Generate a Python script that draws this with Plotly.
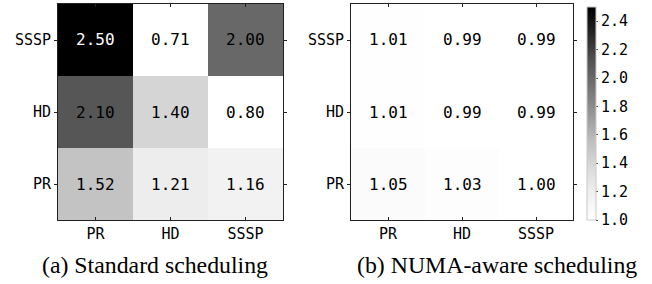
import plotly.graph_objects as go

x_labels = ["PR", "HD", "SSSP"]
y_labels = ["PR", "HD", "SSSP"]  # bottom to top

# rows follow y_labels (PR, HD, SSSP), columns follow x_labels
standard = [
    [1.52, 1.21, 1.16],
    [2.10, 1.40, 0.80],
    [2.50, 0.71, 2.00],
]
numa_aware = [
    [1.05, 1.03, 1.00],
    [1.01, 0.99, 0.99],
    [1.01, 0.99, 0.99],
]
captions = ["(a) Standard scheduling", "(b) NUMA-aware scheduling"]
cbar_ticks = [1.0, 1.2, 1.4, 1.6, 1.8, 2.0, 2.2, 2.4]
zmin, zmax = 1.0, 2.5

greys = [
    [0.0, "#ffffff"], [0.125, "#f0f0f0"], [0.25, "#d9d9d9"], [0.375, "#bdbdbd"],
    [0.5, "#969696"], [0.625, "#737373"], [0.75, "#525252"], [0.875, "#252525"],
    [1.0, "#000000"],
]

MONO = "DejaVu Sans Mono"
SERIF = "Liberation Serif"

W, H = 652, 284
def px_x(v):
    return v / W
def px_y(v):
    return (H - v) / H

fig = go.Figure()

fig.add_trace(go.Heatmap(
    z=standard, x=x_labels, y=y_labels, colorscale=greys, zmin=zmin, zmax=zmax,
    showscale=False, xaxis="x", yaxis="y", hoverinfo="skip",
))
fig.add_trace(go.Heatmap(
    z=numa_aware, x=x_labels, y=y_labels, colorscale=greys, zmin=zmin, zmax=zmax,
    xaxis="x2", yaxis="y2", hoverinfo="skip",
    colorbar=dict(
        x=px_x(587), xanchor="left", y=px_y(220), yanchor="bottom",
        xpad=0, ypad=0,
        len=(220 - 7) / H, lenmode="fraction", thickness=9, thicknessmode="pixels",
        outlinecolor="#c8c8c8", outlinewidth=1,
        tickvals=cbar_ticks, ticktext=[f"{t:.1f}" for t in cbar_ticks],
        ticks="outside", ticklen=2, tickcolor="#444",
        tickfont=dict(family=MONO, size=15, color="black"),
    ),
))

annotations = []
for z, xr, yr in [(standard, "x", "y"), (numa_aware, "x2", "y2")]:
    for i, yl in enumerate(y_labels):
        for j, xl in enumerate(x_labels):
            v = z[i][j]
            annotations.append(dict(
                x=xl, y=yl, xref=xr, yref=yr, text=f"{v:.2f}", showarrow=False,
                font=dict(family=MONO, size=16, color="white" if v > 2.3 else "black"),
            ))

for cap, cx in zip(captions, [154.5, 497]):
    annotations.append(dict(x=px_x(cx), y=px_y(265), xref="paper", yref="paper",
                            xanchor="center", yanchor="middle",
                            text=cap, showarrow=False,
                            font=dict(family=SERIF, size=23.8, color="black")))

xaxis_style = dict(
    showline=True, linecolor="#222", linewidth=1, mirror="ticks",
    ticks="inside", ticklen=3, tickcolor="#222", showgrid=False, zeroline=False,
    tickfont=dict(family=MONO, size=15, color="black"),
    categoryorder="array", categoryarray=x_labels, fixedrange=True,
)
yaxis_style = dict(
    showline=True, linecolor="#222", linewidth=1, mirror="ticks",
    ticks="outside", ticklen=3, tickcolor="#222", showgrid=False, zeroline=False,
    tickfont=dict(family=MONO, size=15, color="black"),
    categoryorder="array", categoryarray=y_labels, fixedrange=True,
)

y_dom = [px_y(220), px_y(4)]
fig.update_layout(
    width=W, height=H,
    margin=dict(l=0, r=0, t=0, b=0),
    paper_bgcolor="white", plot_bgcolor="white",
    xaxis=dict(domain=[px_x(58), px_x(283)], anchor="y", **xaxis_style),
    yaxis=dict(domain=y_dom, anchor="x", **yaxis_style),
    xaxis2=dict(domain=[px_x(351), px_x(573)], anchor="y2", **xaxis_style),
    yaxis2=dict(domain=y_dom, anchor="x2", **yaxis_style),
    annotations=annotations,
    showlegend=False,
)

fig.write_html(
    "out.html",
    config={"displayModeBar": False, "staticPlot": True},
    post_script="document.body.style.margin='0';document.body.style.overflow='hidden';",
)
